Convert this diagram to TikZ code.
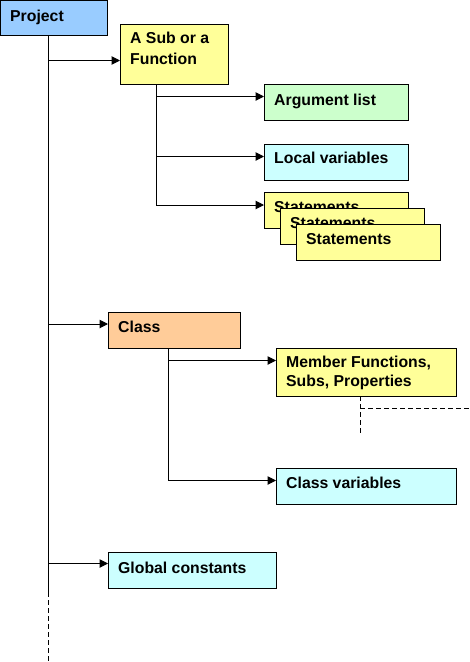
\documentclass[tikz,border=0pt]{standalone}
\usepackage{fontspec}
\setmainfont{Liberation Sans}
\usetikzlibrary{arrows.meta}
\definecolor{cblue}{HTML}{99CCFF}
\definecolor{cyellow}{HTML}{FFFF99}
\definecolor{cgreen}{HTML}{CCFFCC}
\definecolor{ccyan}{HTML}{CCFFFF}
\definecolor{corange}{HTML}{FFCC99}
\tikzset{
  box/.style={draw=black, line width=1pt, rectangle, anchor=north west, inner sep=0pt, outer sep=0pt},
  txt/.style={anchor=base west, inner sep=0pt, font=\fontsize{15.8}{18}\selectfont\bfseries},
  conn/.style={line width=1pt, draw=black},
  arr/.style={conn, -{Triangle[length=8.5pt,width=8.5pt]}},
  dsh/.style={line width=1pt, dash pattern=on 5pt off 3pt}
}
\begin{document}
\begin{tikzpicture}[x=1pt,y=-1pt]
\useasboundingbox (0,0) rectangle (470,662);
% boxes
\node[box, fill=cblue, minimum width=107pt, minimum height=35pt] (proj) at (0.5,0.5) {};
\node[box, fill=cyellow, minimum width=108pt, minimum height=60pt] (sub) at (120,24) {};
\node[box, fill=cgreen, minimum width=144pt, minimum height=36pt] (arg) at (264,84) {};
\node[box, fill=ccyan, minimum width=144pt, minimum height=36pt] (loc) at (264,144) {};
\node[box, fill=cyellow, minimum width=144pt, minimum height=36pt] (st1) at (264,192) {};
\node[txt] (st1t) at (274,212) {Statements};
\node[box, fill=cyellow, minimum width=144pt, minimum height=36pt] (st2) at (280,208) {};
\node[txt] (st2t) at (290,228) {Statements};
\node[box, fill=cyellow, minimum width=144pt, minimum height=36pt] (st3) at (296,224) {};
\node[txt] (st3t) at (306,244) {Statements};
\node[box, fill=corange, minimum width=132pt, minimum height=36pt] (cls) at (108,312) {};
\node[box, fill=cyellow, minimum width=180pt, minimum height=48pt] (mem) at (276,348) {};
\node[box, fill=ccyan, minimum width=180pt, minimum height=36pt] (clv) at (276,468) {};
\node[box, fill=ccyan, minimum width=168pt, minimum height=36pt] (glb) at (108,552) {};
% texts
\node[txt] (projt) at (10,21) {Project};
\node[txt] (subt1) at (130,43) {A Sub or a};
\node[txt] (subt2) at (130,64) {Function};
\node[txt] (argt) at (274,105) {Argument list};
\node[txt] (loct) at (274,163) {Local variables};
\node[txt] (clst) at (118,332) {Class};
\node[txt] (memt1) at (286,367) {Member Functions,};
\node[txt] (memt2) at (286,386) {Subs, Properties};
\node[txt] (clvt) at (286,488) {Class variables};
\node[txt] (glbt) at (118,573) {Global constants};
% main trunk
\coordinate (mtop) at (48,36);
\coordinate (mend) at (48,592);
\coordinate (mdash) at (48,662);
\draw[conn] (mtop) -- (mend);
\draw[dsh] (mend) -- (mdash);
\coordinate (b1) at (48,60.5);
\coordinate (b2) at (48,324);
\coordinate (b3) at (48,563.5);
\draw[arr] (b1) -- (b1 -| sub.west);
\draw[arr] (b2) -- (b2 -| cls.west);
\draw[arr] (b3) -- (b3 -| glb.west);
% sub branches
\coordinate (stop) at (156,84);
\coordinate (s1) at (156,96.5);
\coordinate (s2) at (156,156.5);
\coordinate (s3) at (156,205);
\draw[conn] (stop) -- (s3);
\draw[arr] (s1) -- (s1 -| arg.west);
\draw[arr] (s2) -- (s2 -| loc.west);
\draw[arr] (s3) -- (s3 -| st1.west);
% class branches
\coordinate (ctop) at (168,348);
\coordinate (c1) at (168,360.5);
\coordinate (c2) at (168,480.5);
\draw[conn] (ctop) -- (c2);
\draw[arr] (c1) -- (c1 -| mem.west);
\draw[arr] (c2) -- (c2 -| clv.west);
% dashed continuation from member functions
\coordinate (d0) at (360,396);
\coordinate (d1) at (360,433);
\coordinate (d2) at (360,408);
\coordinate (d3) at (470,408);
\draw[dsh] (d0) -- (d1);
\draw[dsh] (d2) -- (d3);
\end{tikzpicture}
\end{document}
